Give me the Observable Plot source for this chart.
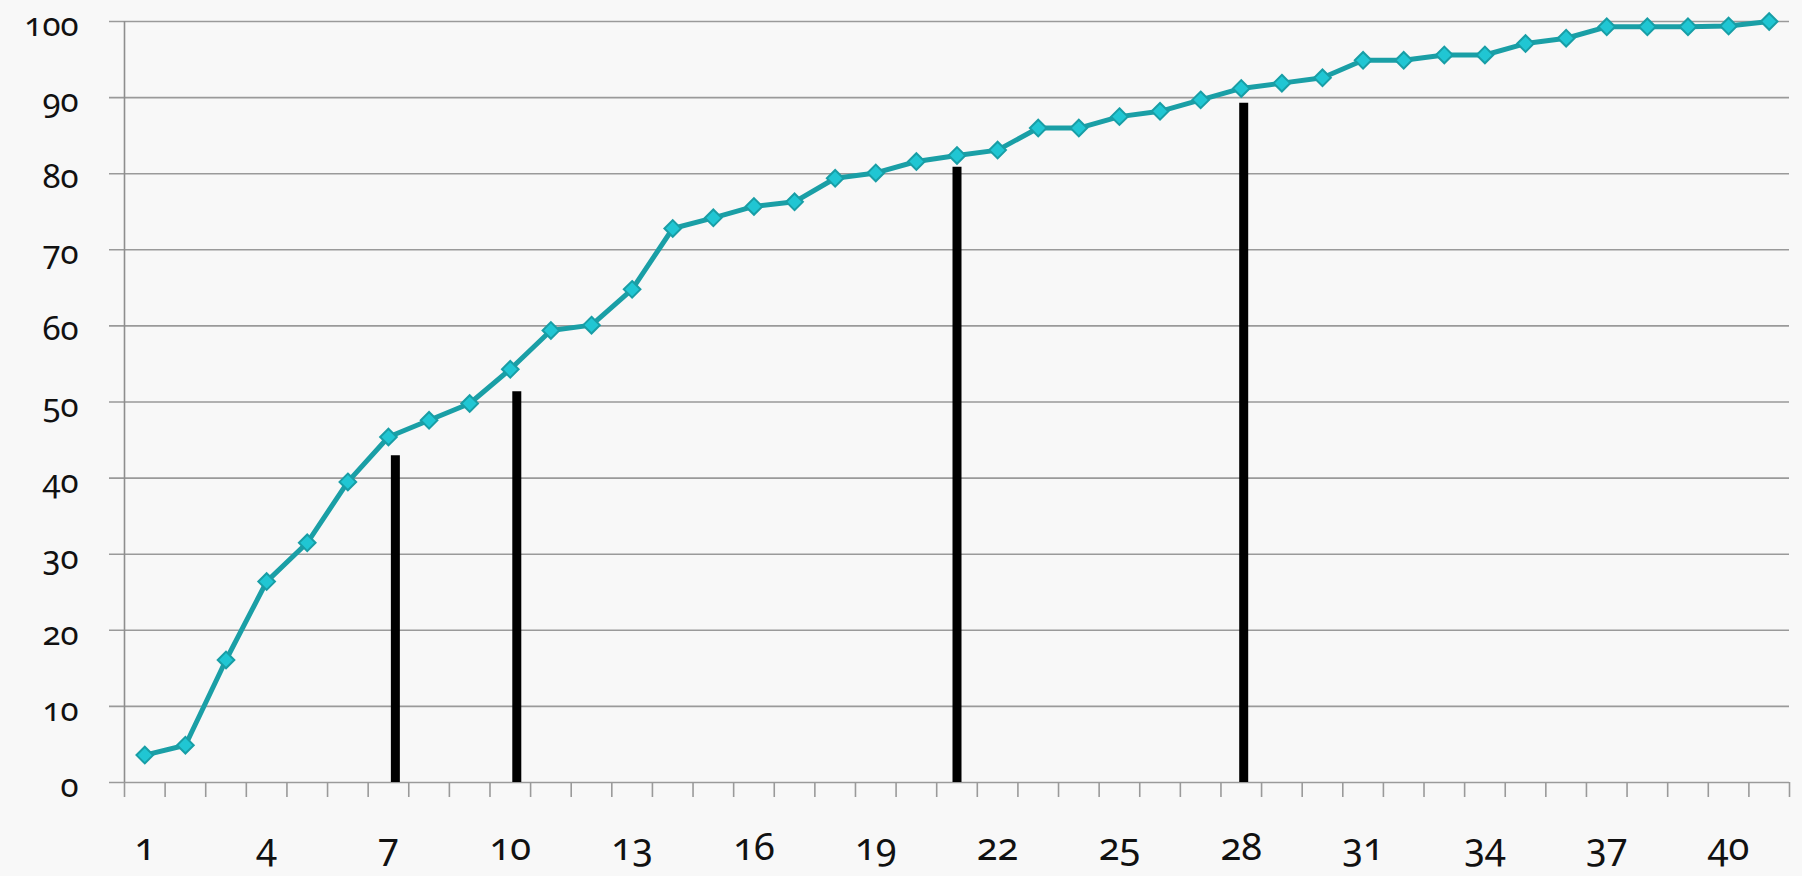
<!DOCTYPE html>
<html><head><meta charset="utf-8">
<script src="https://cdn.jsdelivr.net/npm/d3@7"></script>
<script src="https://cdn.jsdelivr.net/npm/@observablehq/plot@0.6"></script>
<style>
html,body{margin:0;padding:0;background:#f8f8f8;overflow:hidden;}
#chart svg{display:block;font-family:"Noto Sans",sans-serif;font-variant-numeric:oldstyle-nums;font-feature-settings:"onum" 1;}
</style></head><body><div id="chart"></div>
<script>
const categories = [1,2,3,4,5,6,7,8,9,10,11,12,13,14,15,16,17,18,19,20,21,22,23,24,25,26,27,28,29,30,31,32,33,34,35,36,37,38,39,40,41];
const values = [3.6,4.9,16.1,26.4,31.5,39.5,45.4,47.6,49.8,54.3,59.4,60.1,64.8,72.8,74.2,75.7,76.3,79.4,80.1,81.6,82.4,83.1,86.0,86.0,87.5,88.2,89.7,91.2,91.9,92.6,94.9,94.9,95.6,95.6,97.1,97.8,99.3,99.3,99.3,99.4,100];
const xTickLabels = [1,4,7,10,13,16,19,22,25,28,31,34,37,40];
const yTicks = [0,10,20,30,40,50,60,70,80,90,100];
const barX = [7.17,10.16,21.0,28.06];
const barTop = [43.6,52.0,81.5,89.9];

const data = categories.map((c,i)=>({c, v: values[i]}));
const bars = barX.map((x,i)=>({x, top: barTop[i]}));
const boundaries = [categories[0]-0.5, ...categories.map(c=>c+0.5)];

const chart = Plot.plot({
  width: 1802, height: 876,
  marginLeft: 124, marginRight: 13, marginTop: 21, marginBottom: 94,
  x: {domain: [categories[0]-0.5, categories[categories.length-1]+0.5], axis: null},
  y: {domain: [0,100], axis: null},
  style: {background: "#f8f8f8", fontSize: "38px", color: "#111"},
  marks: [
    Plot.ruleY(yTicks, {stroke: "#9a9a9a", strokeWidth: 1.6, insetLeft: -15}),
    Plot.ruleX([boundaries[0]], {y1: 0, y2: 100, stroke: "#8e8e8e", strokeWidth: 1.6}),
    Plot.axisX(boundaries, {tickSize: 15, tickFormat: () => "", stroke: "#9a9a9a", strokeWidth: 1.6}),
    Plot.axisX(xTickLabels, {tickSize: 0, tickPadding: 51, fill: "#111"}),
    Plot.axisY(yTicks, {tickSize: 0, tickPadding: 46, dy: 4, fontSize: 33, fill: "#111"}),
    Plot.ruleX(bars, {x: "x", y1: 0, y2: "top", insetBottom: -5, stroke: "#000", strokeWidth: 9}),
    Plot.line(data, {x: "c", y: "v", stroke: "#1a9fa6", strokeWidth: 5}),
    Plot.dot(data, {x: "c", y: "v", symbol: "diamond2", r: 7.5, fill: "#20c6d3", stroke: "#189ea6", strokeWidth: 2})
  ]
});
document.getElementById("chart").appendChild(chart);
</script></body></html>
